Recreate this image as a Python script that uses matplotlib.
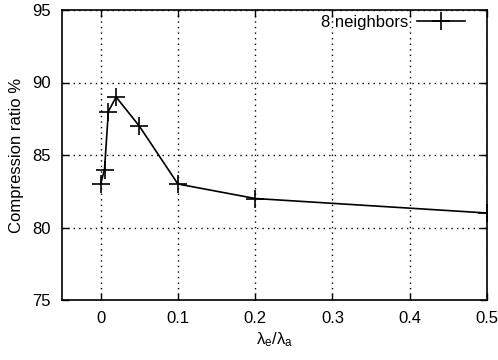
import matplotlib
matplotlib.use('Agg')
from matplotlib import pyplot as plt

plt.rcParams['font.family'] = ['Liberation Sans', 'DejaVu Sans']
plt.rcParams['mathtext.fontset'] = 'custom'
plt.rcParams['mathtext.rm'] = 'Liberation Sans'
plt.rcParams['mathtext.it'] = 'Liberation Sans'

# lambda_e / lambda_a ratio vs compression
ratio = [0, 0.005, 0.01, 0.02, 0.05, 0.1, 0.2, 0.5]
compression = [83, 84, 88, 89, 87, 83, 82, 81]
xticks = [0, 0.1, 0.2, 0.3, 0.4, 0.5]
yticks = [75, 80, 85, 90, 95]

fig = plt.figure(figsize=(4.98, 3.6), dpi=100)
ax = fig.add_axes([62/498, 60/360, 425/498, 290/360])

ax.plot(ratio, compression, color='black', lw=1.2, marker='+',
        markersize=13, markeredgewidth=1.2, label='8 neighbors')

ax.set_xlim(-0.05, 0.5)
ax.set_ylim(75, 95)
ax.set_xticks(xticks)
ax.set_xticklabels(['0', '0.1', '0.2', '0.3', '0.4', '0.5'])
ax.set_yticks(yticks)
ax.tick_params(direction='in', top=True, right=True, length=5,
               width=1, labelsize=12, pad=8)
ax.grid(True, color='black', linestyle=(0, (1, 3)), linewidth=1)
for s in ax.spines.values():
  s.set_linewidth(1.2)

ax.set_xlabel(r'λ$_\mathrm{e}$/λ$_\mathrm{a}$', fontsize=12, labelpad=3)
ax.set_ylabel('Compression ratio %', fontsize=12, labelpad=6)
ax.legend(loc='upper right', bbox_to_anchor=(1 - 15/425, 1 + 2/290),
          borderaxespad=0, frameon=False, markerfirst=False,
          fontsize=12, handlelength=2.9, handletextpad=0.5)

fig.savefig('out.png', dpi=100)
